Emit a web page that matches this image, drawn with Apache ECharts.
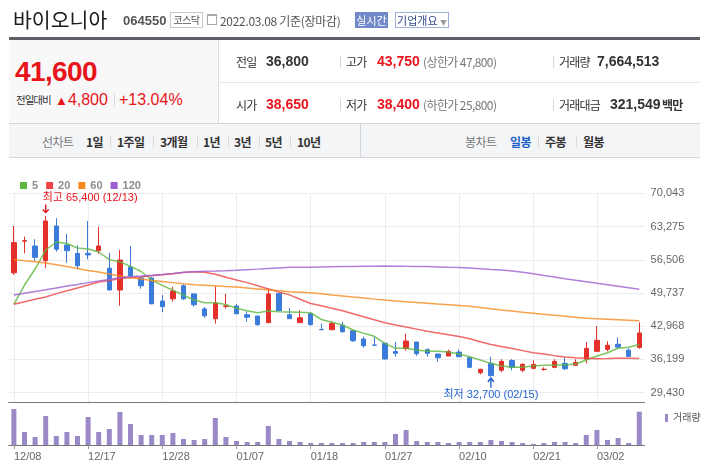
<!DOCTYPE html>
<html><head><meta charset="utf-8">
<script src="https://cdn.jsdelivr.net/npm/echarts@6/dist/echarts.min.js"></script>
<style>
html,body{margin:0;padding:0;background:#fff;width:704px;height:473px;overflow:hidden;font-family:"Noto Sans CJK KR","Liberation Sans",sans-serif;}
#chart{position:absolute;left:0;top:0;width:704px;height:473px;z-index:1;}
.a{position:absolute;white-space:nowrap;z-index:2;}
.n{font-family:"Liberation Sans","Noto Sans CJK KR",sans-serif;}
.k{font-size:12px;letter-spacing:-0.8px;color:#333;}
.v{font-size:14px;font-weight:bold;color:#333;}
.r{color:#e8141c;}
.g{font-size:12px;color:#777;letter-spacing:-0.6px;}
.sep{position:absolute;width:1px;background:#d8d8d8;z-index:2;}
.t{font-size:12px;font-weight:bold;color:#333;letter-spacing:-0.6px;}
</style></head>
<body>
<div id="chart"></div>
<!-- title row -->
<div class="a" style="left:13px;top:5px;font-size:20.5px;line-height:28px;color:#1b1b1b;">바이오니아</div>
<div class="a n" style="left:123px;top:13px;font-size:13px;line-height:16px;font-weight:bold;color:#555;">064550</div>
<div class="a" style="left:170px;top:12px;width:31px;height:14px;line-height:14px;font-size:10px;color:#555;border:1px solid #c9c9c9;text-align:center;letter-spacing:-0.5px;">코스닥</div>
<div class="a" style="left:207px;top:14px;width:8px;height:8px;border:1px solid #a8a8a8;border-top-width:2px;"></div>
<div class="a" style="left:220px;top:12px;font-size:12px;line-height:17px;color:#555;letter-spacing:-0.3px;">2022.03.08 기준(장마감)</div>
<div class="a" style="left:355px;top:12px;width:33px;height:16px;line-height:16px;background:#7189c9;color:#fff;font-size:11px;text-align:center;">실시간</div>
<div class="a" style="left:395px;top:12px;width:52px;height:14px;line-height:14px;border:1px solid #9fb0d6;color:#2e4a8c;font-size:11px;text-align:center;background:#fff;">기업개요 <span style="color:#999;font-size:7px;">▼</span></div>
<div class="a" style="left:9px;top:37px;width:691px;height:3px;background:#5b5e63;"></div>
<!-- info box -->
<div class="a" style="left:9px;top:40px;width:209px;height:83px;background:#f8f8f8;border-right:1px solid #dcdcdc;"></div>
<div class="a" style="left:9px;top:123px;width:691px;height:1px;background:#d6d6d6;"></div>
<div class="a" style="left:219px;top:82px;width:481px;height:1px;background:#e6e6e6;"></div>
<div class="a n r" style="left:15px;top:56px;font-size:28px;line-height:32px;font-weight:bold;letter-spacing:-0.6px;">41,600</div>
<div class="a" style="left:16px;top:92px;font-size:10.5px;line-height:16px;color:#333;letter-spacing:-1px;">전일대비</div>
<div class="a n r" style="left:55px;top:91px;font-size:16px;line-height:18px;"><span style="font-size:13px;">▲</span>4,800</div>
<div class="sep" style="left:114px;top:94px;height:12px;"></div>
<div class="a n r" style="left:119px;top:91px;font-size:16px;line-height:18px;">+13.04%</div>

<div class="a k" style="left:236px;top:53px;line-height:17px;">전일</div>
<div class="a n v" style="left:266px;top:53px;line-height:17px;">36,800</div>
<div class="sep" style="left:340px;top:56px;height:12px;"></div>
<div class="a k" style="left:346px;top:53px;line-height:17px;">고가</div>
<div class="a n v r" style="left:377px;top:53px;line-height:17px;">43,750</div>
<div class="a g" style="left:423px;top:53px;line-height:17px;">(상한가 47,800)</div>
<div class="sep" style="left:553px;top:56px;height:12px;"></div>
<div class="a k" style="left:559px;top:53px;line-height:17px;">거래량</div>
<div class="a n v" style="left:597px;top:53px;line-height:17px;">7,664,513</div>

<div class="a k" style="left:236px;top:96px;line-height:17px;">시가</div>
<div class="a n v r" style="left:266px;top:96px;line-height:17px;">38,650</div>
<div class="sep" style="left:340px;top:99px;height:12px;"></div>
<div class="a k" style="left:346px;top:96px;line-height:17px;">저가</div>
<div class="a n v r" style="left:377px;top:96px;line-height:17px;">38,400</div>
<div class="a g" style="left:423px;top:96px;line-height:17px;">(하한가 25,800)</div>
<div class="sep" style="left:553px;top:99px;height:12px;"></div>
<div class="a k" style="left:559px;top:96px;line-height:17px;">거래대금</div>
<div class="a n v" style="left:610px;top:96px;line-height:17px;">321,549</div>
<div class="a k" style="left:662px;top:96px;line-height:17px;font-weight:bold;">백만</div>
<!-- tab bar -->
<div class="a" style="left:9px;top:124px;width:691px;height:33px;background:#f4f5f7;border-bottom:1px solid #d3d6db;"></div>
<div class="sep" style="left:360px;top:124px;height:33px;background:#d3d6db;"></div>
<div class="a" style="left:42px;top:133px;font-size:12px;line-height:17px;color:#777;letter-spacing:-0.6px;">선차트</div>
<div class="a t" style="left:86px;top:133px;line-height:17px;">1일</div>
<div class="sep" style="left:110px;top:136px;height:11px;"></div>
<div class="a t" style="left:117px;top:133px;line-height:17px;">1주일</div>
<div class="sep" style="left:153px;top:136px;height:11px;"></div>
<div class="a t" style="left:160px;top:133px;line-height:17px;">3개월</div>
<div class="sep" style="left:197px;top:136px;height:11px;"></div>
<div class="a t" style="left:203px;top:133px;line-height:17px;">1년</div>
<div class="sep" style="left:228px;top:136px;height:11px;"></div>
<div class="a t" style="left:234px;top:133px;line-height:17px;">3년</div>
<div class="sep" style="left:259px;top:136px;height:11px;"></div>
<div class="a t" style="left:265px;top:133px;line-height:17px;">5년</div>
<div class="sep" style="left:290px;top:136px;height:11px;"></div>
<div class="a t" style="left:297px;top:133px;line-height:17px;">10년</div>
<div class="a" style="left:465px;top:133px;font-size:12px;line-height:17px;color:#777;letter-spacing:-0.6px;">봉차트</div>
<div class="a t" style="left:510px;top:133px;line-height:17px;color:#1f5fc8;">일봉</div>
<div class="sep" style="left:538px;top:136px;height:11px;"></div>
<div class="a t" style="left:545px;top:133px;line-height:17px;">주봉</div>
<div class="sep" style="left:576px;top:136px;height:11px;"></div>
<div class="a t" style="left:583px;top:133px;line-height:17px;">월봉</div>

<script>
const categories = ['12/08','12/09','12/10','12/13','12/14','12/15','12/16','12/17','12/20','12/21','12/22','12/23','12/24','12/27','12/28','12/29','12/30','01/03','01/04','01/05','01/06','01/07','01/10','01/11','01/12','01/13','01/14','01/17','01/18','01/19','01/20','01/21','01/24','01/25','01/26','01/27','01/28','02/03','02/04','02/07','02/08','02/09','02/10','02/11','02/14','02/15','02/16','02/17','02/18','02/21','02/22','02/23','02/24','02/25','02/28','03/02','03/03','03/04','03/07','03/08'];
const openP = [53850,60300,59300,56300,63400,59500,57800,57800,58350,54800,50350,55050,52800,52800,48100,48550,51200,49550,46500,44500,47000,47100,45300,45050,43700,49650,45300,43700,45500,42300,42250,43150,42050,40350,39150,39500,37800,38400,39750,38200,37300,36900,37700,36550,33500,35400,34000,36000,34000,34400,34150,34600,35400,35000,36250,37850,38250,39300,38100,38650];
const closeP = [60000,60400,57000,64400,58650,58350,55300,57500,59300,50350,56450,53200,51200,47550,46950,50150,48550,47350,45100,47700,47100,45500,44800,43300,49550,46150,44500,44700,43300,42250,43500,41850,40000,39000,39100,36300,37450,39950,37350,37450,36550,37850,36750,34600,34200,32900,35800,34600,35200,35200,34200,35800,34300,35600,38450,40100,39100,38700,36800,41600];
const lowP = [53450,57800,56300,54800,58150,55900,54550,56600,57700,50300,47150,52700,50600,47400,45850,47950,48300,46950,44700,43500,46550,45450,43900,43050,43650,46100,44500,43650,43050,42250,42250,41650,39800,38600,39100,36200,36750,38000,36950,36750,35750,36900,36750,34400,33150,32700,33600,34000,33600,34200,33900,34400,34050,35000,35400,37850,37850,38450,36750,38400];
const highP = [63400,61200,60700,65400,65000,61750,59450,64400,63200,57900,58500,59300,52900,53000,49350,51000,51550,49600,46900,51100,49550,47500,46000,45100,50700,49700,46700,46250,45700,43500,44050,43850,42100,40850,40850,39500,39750,41450,39800,38450,37400,38200,38250,36800,34300,36750,36250,36250,35400,36000,34600,36250,36650,36250,39750,43000,39900,40700,38450,43750];
const ma5 = [47430,51360,54620,58490,60120,59820,58900,58700,58090,56520,56110,55170,54110,52380,51280,50300,49290,48310,47760,47760,47390,46620,46130,45720,46070,45920,45860,45800,45720,44340,43770,43220,42200,41520,40910,39490,38470,38470,38120,37860,37860,37720,37310,36760,36090,35410,34860,34600,34600,34860,35010,35070,35070,35270,36090,36900,37570,38470,38670,39250];
const ma20 = [47430,47960,48450,48920,49610,50180,50770,51360,51980,52280,52650,52870,53050,53260,53460,53670,53890,54070,53950,53560,52950,52380,51850,51220,50570,49960,49350,48470,47600,47130,46640,46130,45500,44890,44280,43660,43220,42790,42380,41950,41590,41220,40870,40430,39810,39260,38820,38410,38000,37570,37290,36980,36680,36530,36430,36370,36390,36430,36450,36420];
const ma60 = [56560,56330,56110,55870,55480,55130,54730,54320,54010,53600,53180,52850,52590,52300,52060,51850,51630,51440,51320,51200,51060,50940,50750,50570,50390,50200,50000,49900,49770,49570,49350,49140,48920,48720,48490,48290,48120,47960,47820,47660,47490,47350,47190,47020,46780,46540,46290,46050,45800,45600,45400,45190,44990,44780,44580,44480,44400,44300,44190,44090];
const ma120 = [49330,49690,50060,50410,50770,51140,51490,51850,52160,52510,52830,53030,53180,53340,53520,53730,53950,54090,54160,54200,54260,54360,54480,54600,54730,54850,54970,54970,54970,55030,55070,55110,55150,55190,55210,55230,55210,55170,55150,55110,55050,54970,54910,54830,54690,54540,54400,54240,53950,53670,53320,53000,52650,52320,52040,51730,51430,51120,50790,50490];
const volume = [8280000,2990000,1840000,6670000,2070000,2990000,2070000,6440000,2990000,3680000,7590000,4830000,2300000,2300000,2300000,2760000,1380000,1150000,1380000,6210000,1840000,920000,690000,690000,4370000,1380000,920000,690000,460000,460000,460000,460000,460000,690000,690000,690000,2530000,3450000,920000,690000,690000,460000,690000,690000,690000,1150000,920000,690000,460000,230000,460000,690000,690000,460000,2300000,3450000,1150000,1610000,460000,7664513];
const yTickLabels = ['29,430','36,199','42,968','49,737','56,506','63,275','70,043'];
const xTickLabels = ['12/08','12/17','12/28','01/07','01/18','01/27','02/10','02/21','03/02'];

const UP = '#e3302b', DOWN = '#3a7bdc', MINC = '#2463d2';
const FONT = '"Liberation Sans","Noto Sans CJK KR",sans-serif';
const tickFn = (i, v) => xTickLabels.indexOf(v !== undefined ? v : categories[i]) >= 0;
const candles = categories.map((c, i) => [openP[i], closeP[i], lowP[i], highP[i]]);
const hiIdx = highP.indexOf(Math.max.apply(null, highP));
const loIdx = lowP.indexOf(Math.min.apply(null, lowP));
const fmt = v => String(v).replace(/\B(?=(\d{3})+(?!\d))/g, ',');
const arrowDown = 'path://M4,0 L6,0 L6,8.5 L8.6,5.9 L10,7.3 L5,12.3 L0,7.3 L1.4,5.9 L4,8.5 Z';
const arrowUp = 'path://M4,12.3 L6,12.3 L6,3.8 L8.6,6.4 L10,5 L5,0 L0,5 L1.4,6.4 L4,3.8 Z';
const yMin = 29430, yStep = 6769, yMax = yMin + yStep * 6;

const gridL = 8.6, gridW = 636;
const chart = echarts.init(document.getElementById('chart'), null, {renderer: 'canvas'});
const lineSeries = (name, data, color) => ({
  name, type: 'line', data, xAxisIndex: 0, yAxisIndex: 0, showSymbol: false, symbol: 'none',
  lineStyle: {color, width: 1.5, opacity: 0.8}, itemStyle: {color}, emphasis: {disabled: true}, z: 3, silent: true
});
chart.setOption({
  animation: false,
  textStyle: {fontFamily: FONT},
  legend: [
    {data: ['5', '20', '60', '120'], left: 15, top: 175, icon: 'rect', itemWidth: 7, itemHeight: 7, itemGap: 8,
     selectedMode: false, textStyle: {color: '#8c8c8c', fontSize: 11, fontWeight: 'bold', fontFamily: FONT}},
    {data: ['거래량'], left: 660, top: 408, icon: 'rect', itemWidth: 3, itemHeight: 8, itemGap: 0,
     selectedMode: false, textStyle: {color: '#555', fontSize: 10, fontFamily: FONT}}
  ],
  grid: [
    {left: gridL, top: 193.3, width: gridW, height: 199.4},
    {left: gridL, top: 392.7, width: gridW, height: 9.6},
    {left: gridL, top: 402.3, width: gridW, height: 42.7}
  ],
  xAxis: [
    {gridIndex: 0, type: 'category', data: categories, boundaryGap: true,
     axisLine: {show: false}, axisTick: {show: false}, axisLabel: {show: false},
     splitLine: {show: true, alignWithLabel: true, interval: tickFn, lineStyle: {color: '#ececec', width: 1}}},
    {gridIndex: 1, type: 'category', data: categories, boundaryGap: true,
     axisLine: {show: true, lineStyle: {color: '#777', width: 1}}, axisTick: {show: false}, axisLabel: {show: false},
     splitLine: {show: true, alignWithLabel: true, interval: tickFn, lineStyle: {color: '#ececec', width: 1}}},
    {gridIndex: 2, type: 'category', data: categories, boundaryGap: true,
     axisLine: {show: true, lineStyle: {color: '#777', width: 1}},
     axisTick: {show: true, alignWithLabel: true, interval: tickFn, length: 4, lineStyle: {color: '#999'}},
     axisLabel: {show: true, interval: tickFn, align: 'left', color: '#666', fontSize: 11, margin: 6, fontFamily: FONT},
     splitLine: {show: false}}
  ],
  yAxis: [
    {gridIndex: 0, type: 'value', position: 'right', min: yMin, max: yMax, interval: yStep, scale: false,
     axisLine: {show: false}, axisTick: {show: false},
     axisLabel: {color: '#666', fontSize: 11, margin: 6, fontFamily: FONT,
       formatter: v => yTickLabels[Math.round((v - yMin) / yStep)] || ''},
     splitLine: {show: true, lineStyle: {color: '#ececec', width: 1}}},
    {gridIndex: 1, type: 'value', show: false, min: 0, max: 1, splitLine: {show: false}},
    {gridIndex: 2, type: 'value', show: false, min: 0, max: 9830000, splitLine: {show: false}}
  ],
  series: [
    {name: 'price', type: 'candlestick', data: candles, xAxisIndex: 0, yAxisIndex: 0, barWidth: 5, z: 2,
     itemStyle: {color: UP, color0: DOWN, borderColor: UP, borderColor0: DOWN, borderWidth: 1},
     emphasis: {disabled: true}, silent: true,
     markPoint: {
       silent: true, animation: false,
       data: [
         {coord: [categories[hiIdx], highP[hiIdx]], symbol: arrowDown, symbolSize: [7, 9], symbolOffset: [0, -7],
          itemStyle: {color: '#e8141c'},
          label: {show: true, position: [0.5, -7], align: 'left', verticalAlign: 'middle', color: '#e8141c', fontSize: 11, fontFamily: FONT,
                  formatter: '최고 ' + fmt(highP[hiIdx]) + ' (' + categories[hiIdx] + ')'}},
         {coord: [categories[loIdx], lowP[loIdx]], symbol: arrowUp, symbolSize: [7, 11], symbolOffset: [0, 5.6],
          itemStyle: {color: MINC},
          label: {show: true, position: [3.5, 18], align: 'center', verticalAlign: 'middle', color: MINC, fontSize: 11, fontFamily: FONT,
                  formatter: '최저 ' + fmt(lowP[loIdx]) + ' (' + categories[loIdx] + ')'}}
       ]
     }},
    lineSeries('5', ma5, '#5cb83c'),
    lineSeries('20', ma20, '#ee4444'),
    lineSeries('60', ma60, '#f68a1e'),
    lineSeries('120', ma120, '#9d5fcf'),
    {name: '거래량', type: 'bar', data: volume, xAxisIndex: 2, yAxisIndex: 2, barWidth: 5,
     itemStyle: {color: '#9b88c7'}, emphasis: {disabled: true}, silent: true}
  ]
});
</script>
</body></html>
